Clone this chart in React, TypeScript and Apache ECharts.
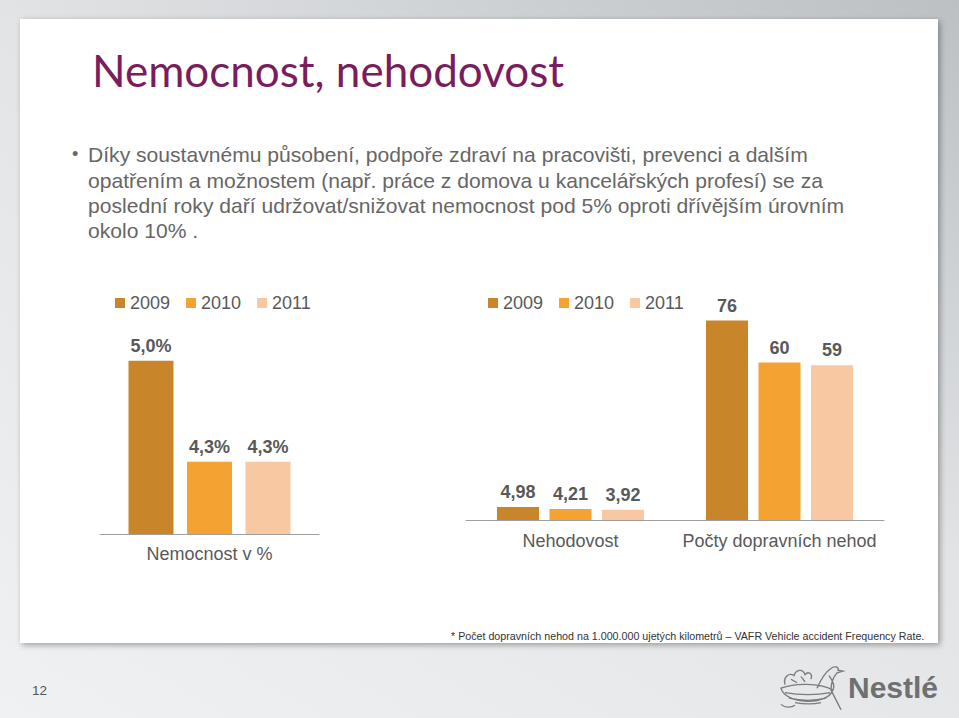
import React, { useEffect, useRef } from "react";
import * as echarts from "echarts";

const years = ["2009", "2010", "2011"];
const yearColors = ["#c8852a", "#f4a232", "#f8c8a2"];

const sickCategories = ["Nemocnost v %"];
const sick2009 = [5.0];
const sick2010 = [4.3];
const sick2011 = [4.3];

const accCategories = ["Nehodovost", "Počty dopravních nehod"];
const acc2009 = [4.98, 76];
const acc2010 = [4.21, 60];
const acc2011 = [3.92, 59];

const titleText = "Nemocnost, nehodovost";
const bulletLines = [
  "Díky soustavnému působení, podpoře zdraví na pracovišti, prevenci a dalším",
  "opatřením a možnostem (např. práce z domova u kancelářských profesí) se za",
  "poslední roky daří udržovat/snižovat nemocnost pod 5% oproti dřívějším úrovním",
  "okolo 10% .",
];
const footnote =
  "* Počet dopravních nehod na 1.000.000 ujetých kilometrů – VAFR Vehicle accident Frequency Rate.";
const pageNumber = "12";
const logoText = "Nestlé";

const FONT = "'Liberation Sans', Arial, sans-serif";
const GRAY = "#595959";

const nestPath =
  "M0,28 C4,46 46,48 52,30 C38,22 14,22 0,28 Z " +
  "M4,33 C18,36 36,36 49,33 M8,39 C20,42 34,42 45,39 M14,44 C24,46 32,46 40,44 " +
  "M36,28 C40,18 44,10 50,6 C53,3 58,4 57,8 L62,9 L56,11 C52,16 50,24 50,30 L60,52 M48,14 C52,20 54,26 52,30 " +
  "M4,24 C2,16 8,10 13,14 C15,7 22,6 24,13 C27,9 32,11 30,18 M10,18 L16,22 M20,15 L24,21 " +
  "M0,46 C4,50 10,50 14,47";

export default function App() {
  const ref = useRef<HTMLDivElement>(null);

  useEffect(() => {
    document.body.style.margin = "0";
    if (!ref.current) return;
    try {
      echarts.graphic.registerShape("nest", echarts.graphic.extendPath(nestPath, {}));
    } catch (e) {}
    const chart = echarts.init(ref.current, undefined, { renderer: "svg" });

    const sickLabel = (p: any) => p.value.toFixed(1).replace(".", ",") + "%";
    const accLabel = (p: any) =>
      p.dataIndex === 0 ? p.value.toFixed(2).replace(".", ",") : String(p.value);

    const labelStyle = {
      show: true,
      position: "top",
      distance: 6,
      fontFamily: FONT,
      fontSize: 18,
      fontWeight: "bold",
      color: GRAY,
    };

    const sickData = [sick2009, sick2010, sick2011];
    const accData = [acc2009, acc2010, acc2011];

    const series: any[] = [];
    years.forEach((y, i) => {
      series.push({
        name: y,
        type: "bar",
        xAxisIndex: 0,
        yAxisIndex: 0,
        data: sickData[i],
        barWidth: 45,
        barGap: "30%",
        itemStyle: { color: yearColors[i] },
        label: { ...labelStyle, formatter: sickLabel },
        z: 5,
      });
    });
    years.forEach((y, i) => {
      series.push({
        name: y,
        type: "bar",
        xAxisIndex: 1,
        yAxisIndex: 1,
        data: accData[i],
        barWidth: 42,
        barGap: "25%",
        itemStyle: { color: yearColors[i] },
        label: { ...labelStyle, formatter: accLabel },
        z: 5,
      });
    });

    const legendBase = {
      top: 289,
      itemWidth: 10,
      itemHeight: 10,
      itemGap: 16,
      icon: "rect",
      data: years,
      textStyle: { fontFamily: FONT, fontSize: 18, color: GRAY },
      selectedMode: false,
    };

    const axisCommon = {
      type: "category",
      axisTick: { show: false },
      axisLine: { onZero: false, lineStyle: { color: "#a0a0a0", width: 1 } },
      axisLabel: { fontFamily: FONT, fontSize: 18, color: GRAY, interval: 0 },
    };

    const graphic: any[] = [
      {
        type: "rect",
        z: 0,
        shape: { x: 20, y: 19, width: 918, height: 624 },
        style: {
          fill: "#ffffff",
          shadowBlur: 6,
          shadowOffsetX: 2,
          shadowOffsetY: 2,
          shadowColor: "rgba(0,0,0,0.35)",
        },
      },
      {
        type: "text",
        z: 1,
        x: 92,
        y: 70,
        style: {
          text: titleText,
          fontFamily: "Lato, 'Open Sans', sans-serif",
          fontSize: 44,
          fill: "#7a1d5e",
          textVerticalAlign: "middle",
        },
      },
      {
        type: "text",
        z: 1,
        x: 72,
        y: 154,
        style: {
          text: "•",
          fontFamily: FONT,
          fontSize: 18,
          fill: "#666666",
          textVerticalAlign: "middle",
        },
      },
      ...bulletLines.map((t, i) => ({
        type: "text",
        z: 1,
        x: 88,
        y: 155 + i * 25.4,
        scaleX: 1.055,
        style: {
          text: t,
          fontFamily: FONT,
          fontSize: 20,
          fill: "#666666",
          textVerticalAlign: "middle",
        },
      })),
      {
        type: "text",
        z: 1,
        x: 451,
        y: 636,
        style: {
          text: footnote,
          fontFamily: FONT,
          fontSize: 10.7,
          fill: "#333333",
          textVerticalAlign: "middle",
        },
      },
      {
        type: "text",
        z: 1,
        x: 32,
        y: 690,
        style: {
          text: pageNumber,
          fontFamily: FONT,
          fontSize: 13.5,
          fill: "#555555",
          textVerticalAlign: "middle",
        },
      },
      {
        type: "nest",
        z: 1,
        x: 781,
        y: 663,
        scaleX: 1.0,
        scaleY: 0.9,
        style: { fill: "none", stroke: "#7a7c7e", lineWidth: 1.4 },
      },
      {
        type: "text",
        z: 1,
        x: 848,
        y: 687,
        style: {
          text: logoText,
          fontFamily: FONT,
          fontSize: 30,
          fontWeight: "bold",
          fill: "#6e7072",
          textVerticalAlign: "middle",
        },
      },
    ];

    chart.setOption({
      animation: false,
      graphic,
      legend: [
        { ...legendBase, left: 110 },
        { ...legendBase, left: 483 },
      ],
      grid: [
        { left: 100, width: 219, top: 332, height: 202 },
        { left: 466, width: 418, top: 310, height: 210 },
      ],
      xAxis: [
        {
          ...axisCommon,
          gridIndex: 0,
          data: sickCategories,
          axisLabel: { ...axisCommon.axisLabel, margin: 11 },
        },
        {
          ...axisCommon,
          gridIndex: 1,
          data: accCategories,
          axisLabel: { ...axisCommon.axisLabel, margin: 12 },
        },
      ],
      yAxis: [
        { type: "value", gridIndex: 0, min: 3.8, max: 5.2, show: false },
        { type: "value", gridIndex: 1, min: 0, max: 80, show: false },
      ],
      series,
    });

    return () => chart.dispose();
  }, []);

  return (
    <div
      ref={ref}
      style={{
        width: 959,
        height: 718,
        background:
          "linear-gradient(30deg, #f0f1f2 0%, #e2e4e6 55%, #bcc0c3 100%)",
      }}
    />
  );
}
